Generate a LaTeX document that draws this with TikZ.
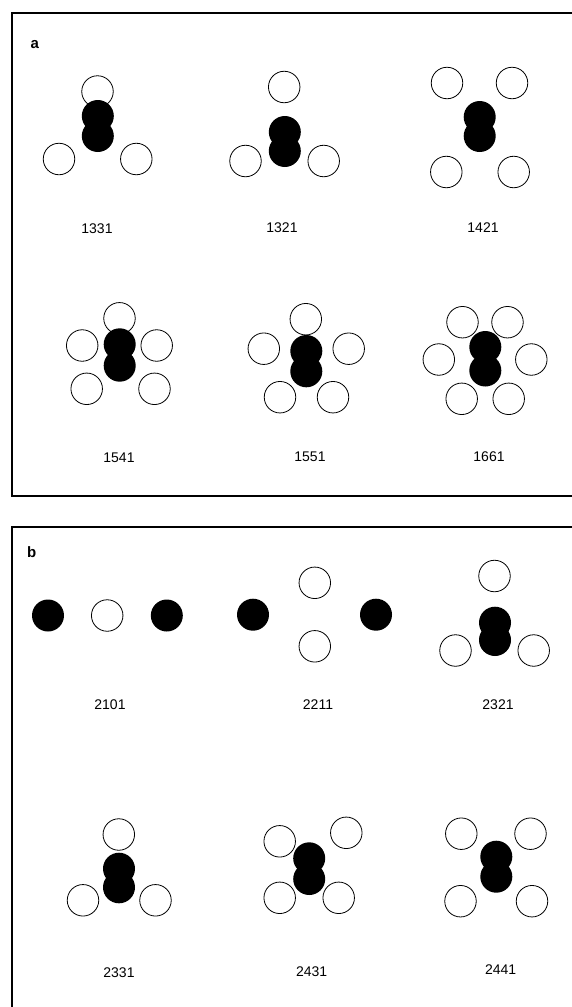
\documentclass[tikz,border=0pt]{standalone}
\usepackage{fontspec}
\setmainfont{Liberation Sans}
\begin{document}
\begin{tikzpicture}[x=1pt,y=-1pt,
  open/.style={circle,draw=black,line width=0.8pt,fill=white,minimum size=31.5pt,inner sep=0pt},
  full/.style={circle,fill=black,minimum size=32pt,inner sep=0pt},
  lbl/.style={font=\fontsize{14}{16}\selectfont,inner sep=0pt},
  panel/.style={font=\fontsize{15}{17}\selectfont\bfseries,inner sep=0pt,anchor=base west},
  frame/.style={draw=black,line width=1.3pt}]
\useasboundingbox (0,0) rectangle (572,1007);
\clip (0,0) rectangle (572,1007);
\fill[white] (0,0) rectangle (572,1007);
% frames
\draw[frame] (12,13) rectangle (590,496);
\draw[frame] (12,527) rectangle (590,1030);
\node[panel] (pa) at (30.5,48.3) {a};
\node[panel] (pb) at (27,557.3) {b};
% ---------- panel a ----------
% 1331
\node[open] (a1o1) at (97.5,91.5) {};
\node[open] (a1o2) at (59,159) {};
\node[open] (a1o3) at (136.3,159) {};
\node[full] (a1b1) at (97.8,116) {};
\node[full] (a1b2) at (97.8,136) {};
\node[lbl] (a1l) at (97,229) {1331};
% 1321
\node[open] (a2o1) at (284.2,87) {};
\node[open] (a2o2) at (245.5,161) {};
\node[open] (a2o3) at (323.7,161) {};
\node[full] (a2b1) at (284.8,132) {};
\node[full] (a2b2) at (284.8,151) {};
\node[lbl] (a2l) at (282,228) {1321};
% 1421
\node[open] (a3o1) at (447,83) {};
\node[open] (a3o2) at (512,83) {};
\node[open] (a3o3) at (446.3,172) {};
\node[open] (a3o4) at (513.7,172) {};
\node[full] (a3b1) at (479.7,117) {};
\node[full] (a3b2) at (479.7,136) {};
\node[lbl] (a3l) at (483,228) {1421};
% 1541
\node[open] (a4o1) at (119.5,318.3) {};
\node[open] (a4o2) at (82.2,345.5) {};
\node[open] (a4o3) at (156.7,345.5) {};
\node[open] (a4o4) at (86.7,388.8) {};
\node[open] (a4o5) at (154.5,388.8) {};
\node[full] (a4b1) at (119.7,344.3) {};
\node[full] (a4b2) at (119.7,365.7) {};
\node[lbl] (a4l) at (119,458) {1541};
% 1551
\node[open] (a5o1) at (305.8,319.2) {};
\node[open] (a5o2) at (263.8,348.7) {};
\node[open] (a5o3) at (348.7,348.7) {};
\node[open] (a5o4) at (280,397.2) {};
\node[open] (a5o5) at (333,397.2) {};
\node[full] (a5b1) at (306.3,351) {};
\node[full] (a5b2) at (306.3,371.3) {};
\node[lbl] (a5l) at (310,457) {1551};
% 1661
\node[open] (a6o1) at (462.5,322.2) {};
\node[open] (a6o2) at (507.5,322.2) {};
\node[open] (a6o3) at (438.8,359.5) {};
\node[open] (a6o4) at (531.3,359.5) {};
\node[open] (a6o5) at (461.7,398.8) {};
\node[open] (a6o6) at (508.7,398.8) {};
\node[full] (a6b1) at (485.3,347) {};
\node[full] (a6b2) at (485.3,370.5) {};
\node[lbl] (a6l) at (489,457) {1661};
% ---------- panel b ----------
% 2101
\node[full] (b1b1) at (48,615.5) {};
\node[open] (b1o1) at (107.2,615.5) {};
\node[full] (b1b2) at (166.8,615.5) {};
\node[lbl] (b1l) at (110,705) {2101};
% 2211
\node[open] (b2o1) at (314.8,582.8) {};
\node[open] (b2o2) at (314.8,646.3) {};
\node[full] (b2b1) at (253,614.7) {};
\node[full] (b2b2) at (376,614.7) {};
\node[lbl] (b2l) at (318,705) {2211};
% 2321
\node[open] (b3o1) at (494.5,576) {};
\node[open] (b3o2) at (455.5,650.5) {};
\node[open] (b3o3) at (533.7,650.5) {};
\node[full] (b3b1) at (495,622.7) {};
\node[full] (b3b2) at (495,640) {};
\node[lbl] (b3l) at (498,705) {2321};
% 2331
\node[open] (b4o1) at (118.8,834.5) {};
\node[open] (b4o2) at (83,900.3) {};
\node[open] (b4o3) at (155.5,900.3) {};
\node[full] (b4b1) at (119,868.7) {};
\node[full] (b4b2) at (119,887.3) {};
\node[lbl] (b4l) at (119,973) {2331};
% 2431
\node[open] (b5o1) at (279.7,841.3) {};
\node[open] (b5o2) at (346.3,832.8) {};
\node[open] (b5o3) at (279.7,897.8) {};
\node[open] (b5o4) at (338.7,897.8) {};
\node[full] (b5b1) at (309.2,858.3) {};
\node[full] (b5b2) at (309.2,879) {};
\node[lbl] (b5l) at (311.7,972) {2431};
% 2441
\node[open] (b6o1) at (461.3,833.7) {};
\node[open] (b6o2) at (530.5,833.7) {};
\node[open] (b6o3) at (460.5,901.2) {};
\node[open] (b6o4) at (532,901.2) {};
\node[full] (b6b1) at (496.3,856.7) {};
\node[full] (b6b2) at (496.3,876.7) {};
\node[lbl] (b6l) at (500.7,970) {2441};
\end{tikzpicture}
\end{document}
